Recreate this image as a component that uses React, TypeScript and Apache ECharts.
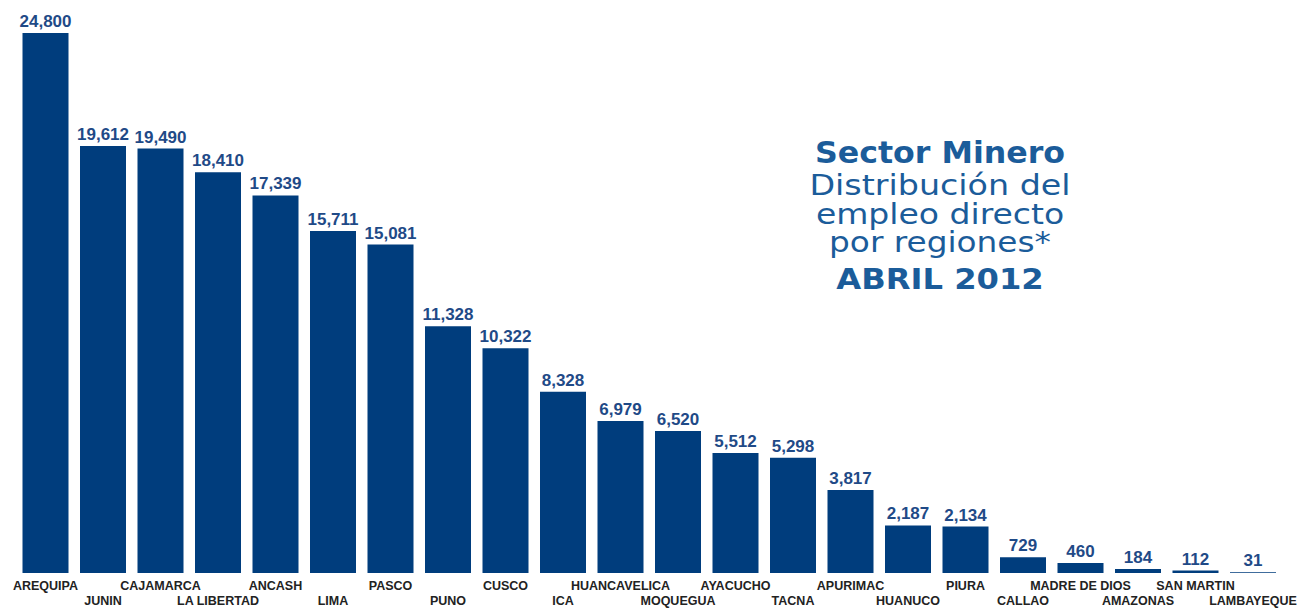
import React, { useEffect, useRef } from "react";
import * as echarts from "echarts";

const regions = [
  "AREQUIPA", "JUNIN", "CAJAMARCA", "LA LIBERTAD", "ANCASH", "LIMA", "PASCO",
  "PUNO", "CUSCO", "ICA", "HUANCAVELICA", "MOQUEGUA", "AYACUCHO", "TACNA",
  "APURIMAC", "HUANUCO", "PIURA", "CALLAO", "MADRE DE DIOS", "AMAZONAS",
  "SAN MARTIN", "LAMBAYEQUE",
];
const employment = [
  24800, 19612, 19490, 18410, 17339, 15711, 15081, 11328, 10322, 8328, 6979,
  6520, 5512, 5298, 3817, 2187, 2134, 729, 460, 184, 112, 31,
];
const titleLines = [
  { text: "Sector Minero", bold: true },
  { text: "Distribución del", bold: false },
  { text: "empleo directo", bold: false },
  { text: "por regiones*", bold: false },
  { text: "ABRIL 2012", bold: true },
];

const TITLE_COLOR = "#1B5C9A";
const titleLayout = [
  { y: 152.5, size: 30, sx: 1.055 },
  { y: 185, size: 28, sx: 1.19 },
  { y: 214, size: 28, sx: 1.18 },
  { y: 242.5, size: 28, sx: 1.17 },
  { y: 279, size: 28, sx: 1.15 },
];

export default function App() {
  const ref = useRef<HTMLDivElement>(null);
  useEffect(() => {
    if (!ref.current) return;
    const chart = echarts.init(ref.current, null, { renderer: "svg" });
    chart.setOption({
      animation: false,
      backgroundColor: "#ffffff",
      grid: {
        left: 16.75,
        right: 16.25,
        top: 33,
        bottom: 35,
        containLabel: false,
        outerBoundsMode: "none",
      },
      xAxis: {
        type: "category",
        data: regions,
        axisLine: { show: false },
        axisTick: { show: false },
        axisLabel: {
          interval: 0,
          margin: 5,
          fontFamily: "Liberation Sans, Arial, sans-serif",
          fontWeight: "bold",
          fontSize: 12.5,
          lineHeight: 15,
          color: "#222222",
          formatter: (v: string, i: number) => (i % 2 === 1 ? "\n" + v : v),
        },
      },
      yAxis: {
        type: "value",
        min: 0,
        max: 24800,
        show: false,
        splitLine: { show: false },
      },
      series: [
        {
          type: "bar",
          data: employment,
          barWidth: 46,
          itemStyle: { color: "#003D7D" },
          label: {
            show: true,
            position: "top",
            distance: 3,
            fontFamily: "Liberation Sans, Arial, sans-serif",
            fontWeight: "bold",
            fontSize: 17,
            color: "#1F4A87",
            formatter: (p: any) => Number(p.value).toLocaleString("en-US"),
          },
        },
      ],
      graphic: titleLines.map((l, i) => ({
        type: "text",
        x: 940,
        y: titleLayout[i].y,
        scaleX: titleLayout[i].sx,
        style: {
          text: l.text,
          x: 0,
          y: 0,
          textAlign: "center",
          textVerticalAlign: "middle",
          fontFamily: "DejaVu Sans, Verdana, sans-serif",
          fontWeight: l.bold ? "bold" : "normal",
          fontSize: titleLayout[i].size,
          fill: TITLE_COLOR,
        },
      })),
    });
    return () => chart.dispose();
  }, []);
  return (
    <div
      ref={ref}
      style={{ position: "absolute", left: 0, top: 0, width: 1298, height: 608 }}
    />
  );
}
